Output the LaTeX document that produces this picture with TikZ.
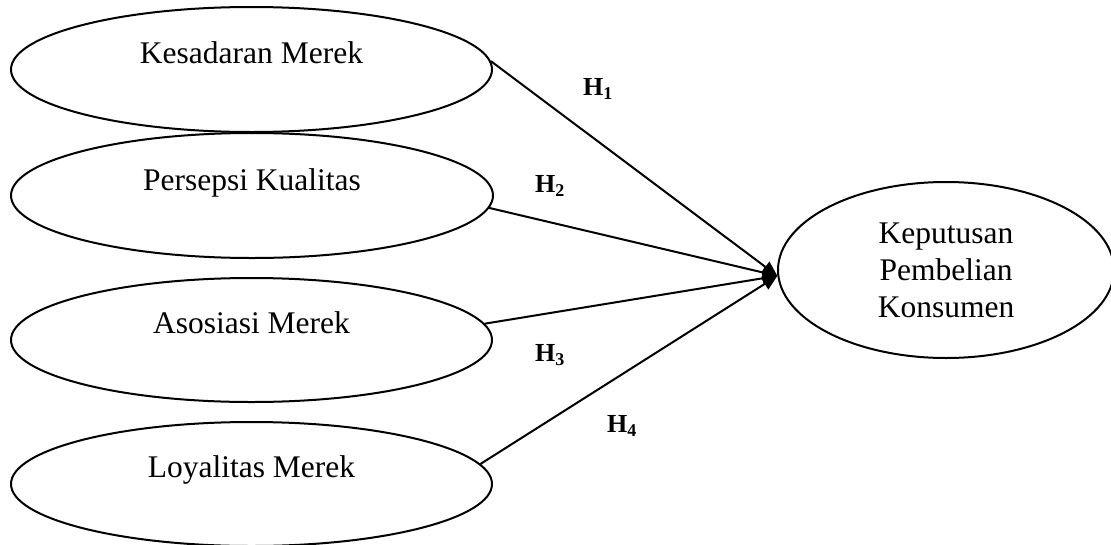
\documentclass[tikz,border=0pt]{standalone}
\usepackage{fontspec}
\setmainfont{Liberation Serif}
\usetikzlibrary{shapes.geometric,arrows.meta}
\newcommand\hlab[1]{H\raisebox{-4pt}{\fontsize{18}{18}\selectfont #1}}
\begin{document}
\begin{tikzpicture}[x=1pt,y=-1pt,
  ell/.style={draw, ellipse, line width=2pt, inner sep=0pt},
  vartext/.style={font=\fontsize{31.5}{37}\selectfont, inner sep=0pt},
  hyp/.style={font=\fontsize{26}{26}\selectfont\bfseries, inner sep=0pt, anchor=base west},
  conn/.style={line width=2pt, -{Triangle[length=15pt,width=13pt]}}
]
\useasboundingbox (0,0) rectangle (1111,544);

\node[ell, minimum width=481pt, minimum height=125pt] (e1) at (251.5,69.5) {};
\node[ell, minimum width=482pt, minimum height=125pt] (e2) at (252,195.5) {};
\node[ell, minimum width=481pt, minimum height=124pt] (e3) at (251.5,340) {};
\node[ell, minimum width=481pt, minimum height=124pt] (e4) at (251.5,484) {};
\node[ell, minimum width=336pt, minimum height=176pt, align=center, vartext] (r) at (946,270) {Keputusan\\Pembelian\\Konsumen};

\node[vartext, anchor=base] (t1) at ([yshift=6.5pt]e1.center) {Kesadaran Merek};
\node[vartext, anchor=base] (t2) at ([yshift=5.5pt]e2.center) {Persepsi Kualitas};
\node[vartext, anchor=base] (t3) at ([yshift=7pt]e3.center) {Asosiasi Merek};
\node[vartext, anchor=base] (t4) at ([yshift=7pt]e4.center) {Loyalitas Merek};

\draw[conn] (e1.2) -- (r.182);
\draw[conn] (e2.-3.3) -- (r.182);
\draw[conn] (e3.4) -- (r.182);
\draw[conn] (e4.5) -- (r.182);

\node[hyp] (h1) at (583,95) {\hlab{1}};
\node[hyp] (h2) at (535,192) {\hlab{2}};
\node[hyp] (h3) at (535,361) {\hlab{3}};
\node[hyp] (h4) at (607,432) {\hlab{4}};
\end{tikzpicture}
\end{document}
